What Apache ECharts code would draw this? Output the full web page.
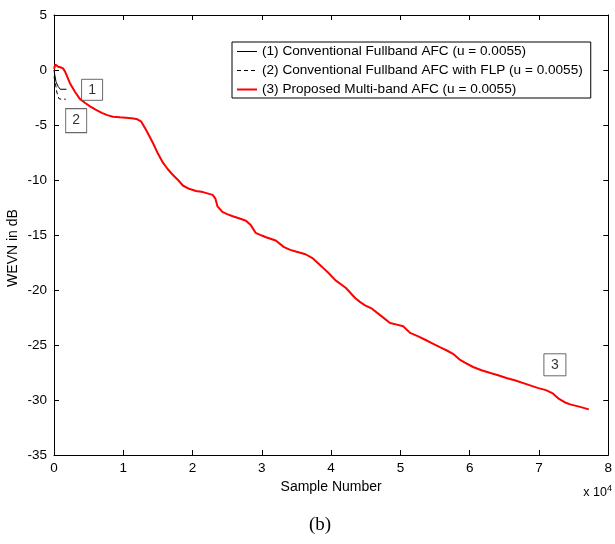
<!DOCTYPE html>
<html>
<head>
<meta charset="utf-8">
<script src="https://cdn.jsdelivr.net/npm/echarts@6/dist/echarts.min.js"></script>
<style>
html,body{margin:0;padding:0;background:#fff;}
#chart{width:615px;height:544px;}
</style>
</head>
<body>
<div id="chart"></div>
<script>
// x values are in units of 10^4 samples
const seriesNames = [
  '(1) Conventional Fullband AFC (u = 0.0055)',
  '(2) Conventional Fullband AFC with FLP (u = 0.0055)',
  '(3) Proposed Multi-band AFC (u = 0.0055)'
];
const xTicks = [0, 1, 2, 3, 4, 5, 6, 7, 8];
const yTicks = [5, 0, -5, -10, -15, -20, -25, -30, -35];

const line1 = [[0,0],[0.01,-0.4],[0.03,-1.1],[0.06,-1.5],[0.09,-1.75],[0.18,-1.75]];
const line2 = [[0,-0.6],[0.02,-1.2],[0.04,-2.0],[0.07,-2.6],[0.1,-2.65],[0.17,-2.65]];
const line3 = [
  [0,0.1],[0.02,0.5],[0.04,0.55],[0.06,0.3],[0.09,0.25],[0.13,0.15],[0.16,-0.15],
  [0.23,-1.2],[0.3,-1.95],[0.37,-2.6],[0.45,-3.0],[0.52,-3.3],[0.6,-3.6],[0.69,-3.9],
  [0.77,-4.1],[0.85,-4.25],[0.95,-4.3],[1.04,-4.33],[1.12,-4.38],[1.19,-4.45],[1.26,-4.7],
  [1.33,-5.45],[1.43,-6.66],[1.5,-7.6],[1.57,-8.4],[1.64,-9.0],[1.71,-9.5],[1.79,-10.0],
  [1.86,-10.5],[1.95,-10.8],[2.05,-11.0],[2.15,-11.1],[2.29,-11.35],[2.33,-11.7],[2.36,-12.4],
  [2.43,-12.9],[2.5,-13.1],[2.58,-13.3],[2.68,-13.5],[2.77,-13.7],[2.84,-14.1],[2.91,-14.8],
  [3.0,-15.05],[3.06,-15.2],[3.2,-15.5],[3.32,-16.1],[3.41,-16.35],[3.49,-16.5],[3.63,-16.75],
  [3.73,-17.1],[3.87,-17.9],[3.97,-18.5],[4.06,-19.1],[4.21,-19.8],[4.35,-20.75],[4.42,-21.1],
  [4.49,-21.4],[4.59,-21.7],[4.73,-22.4],[4.85,-23.0],[4.95,-23.15],[5.04,-23.3],[5.14,-23.9],
  [5.25,-24.2],[5.35,-24.5],[5.46,-24.85],[5.57,-25.2],[5.67,-25.5],[5.76,-25.8],[5.85,-26.3],
  [5.93,-26.6],[6.05,-27.0],[6.17,-27.3],[6.3,-27.55],[6.41,-27.75],[6.53,-28.0],[6.65,-28.2],
  [6.84,-28.6],[6.98,-28.9],[7.1,-29.1],[7.2,-29.4],[7.29,-29.9],[7.37,-30.2],[7.45,-30.4],
  [7.58,-30.6],[7.72,-30.85]
];
// annotation boxes: [x, y, label]
const boxLabels = [[0.55,-1.8,'1'],[0.32,-4.6,'2'],[7.23,-26.8,'3']];
const boxSizes = [[21,21],[21,24],[22,22]];

const FONT = '"Liberation Sans", Arial, sans-serif';
const chart = echarts.init(document.getElementById('chart'), null, {renderer:'canvas'});

const axisCommon = {
  type:'value',
  axisLine:{show:true,onZero:false,lineStyle:{color:'#000',width:1}},
  axisTick:{show:true,inside:true,length:5,lineStyle:{color:'#000'}},
  splitLine:{show:false}
};

const option = {
  animation:false,
  backgroundColor:'#fff',
  grid:{left:54,right:3,top:15,bottom:89,containLabel:false},
  xAxis:[
    Object.assign({}, axisCommon, {position:'bottom',min:xTicks[0],max:xTicks[xTicks.length-1],interval:1,
      axisLabel:{color:'#000',fontFamily:FONT,fontSize:13.5,margin:6,showMaxLabel:true},
      name:'Sample Number',nameLocation:'middle',nameGap:23,
      nameTextStyle:{color:'#000',fontFamily:FONT,fontSize:14}}),
    Object.assign({}, axisCommon, {position:'top',min:xTicks[0],max:xTicks[xTicks.length-1],interval:1,
      axisLabel:{show:false}})
  ],
  yAxis:[
    Object.assign({}, axisCommon, {position:'left',min:yTicks[yTicks.length-1],max:yTicks[0],interval:5,
      axisLabel:{color:'#000',fontFamily:FONT,fontSize:13.5,margin:7}}),
    Object.assign({}, axisCommon, {position:'right',min:yTicks[yTicks.length-1],max:yTicks[0],interval:5,
      axisLabel:{show:false}})
  ],
  legend:{
    orient:'vertical',left:232,top:42,
    data:[
      {name:seriesNames[0],lineStyle:{width:1}},
      {name:seriesNames[1],lineStyle:{width:1}},
      {name:seriesNames[2],lineStyle:{width:2}}
    ],
    backgroundColor:'#fff',borderColor:'#000',borderWidth:1,borderRadius:0,
    padding:[2.5,8,1.5,4],itemGap:5,itemWidth:20,itemHeight:13,
    itemStyle:{opacity:0},
    textStyle:{color:'#000',fontFamily:FONT,fontSize:13.6},
    selectedMode:false
  },
  series:[
    {name:seriesNames[0],type:'line',data:line1,symbol:'none',
      lineStyle:{color:'#000',width:1},itemStyle:{color:'#000'},z:3},
    {name:seriesNames[1],type:'line',data:line2,symbol:'none',
      lineStyle:{color:'#000',width:1,type:[4,3]},itemStyle:{color:'#000'},z:3},
    {name:seriesNames[2],type:'line',data:line3,symbol:'none',
      lineStyle:{color:'#ff0000',width:2},itemStyle:{color:'#ff0000'},z:4},
    {name:'boxes',type:'scatter',
      data:boxLabels.map((b,i)=>({value:[b[0],b[1]],symbolSize:boxSizes[i],label:{formatter:b[2]}})),
      symbol:'rect',
      itemStyle:{color:'#fff',borderColor:'#444',borderWidth:1},
      label:{show:true,position:'inside',color:'#000',fontFamily:FONT,fontSize:14},
      silent:true,z:5}
  ],
  graphic:[
    {type:'text',x:13,y:248,rotation:Math.PI/2,
      style:{text:'WEVN in dB',fill:'#000',font:'14px '+FONT,textAlign:'center',textVerticalAlign:'middle'}},
    {type:'text',right:3,top:484,
      style:{text:'x 10{s|4}',fill:'#000',font:'12.5px '+FONT,
        rich:{s:{fontSize:9,fontFamily:FONT,verticalAlign:'top',padding:[0,0,8,0]}}}},
    {type:'text',x:320,y:525,
      style:{text:'(b)',fill:'#000',font:'19px "Liberation Serif", "Times New Roman", serif',textAlign:'center',textVerticalAlign:'middle'}}
  ]
};
chart.setOption(option);
</script>
</body>
</html>
